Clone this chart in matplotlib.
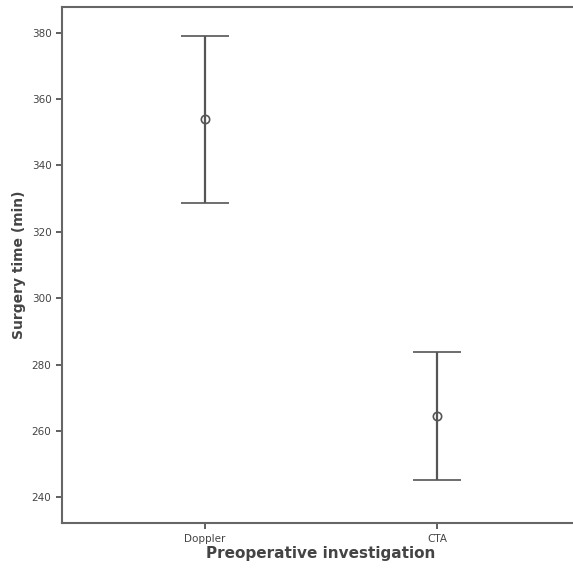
import matplotlib.pyplot as plt
import numpy as np

# group means and 95% CI bounds
groups = ['Doppler', 'CTA']
means = [354.1, 264.6]
upper = [379.1, 283.9]
lower = [328.8, 245.1]

fig = plt.figure(figsize=(5.73, 5.73), dpi=100)
ax = fig.add_axes([0.108, 0.087, 0.904, 0.901])

x = np.arange(len(groups))
m = np.array(means)
err = [m - np.array(lower), np.array(upper) - m]
ax.errorbar(x, m, yerr=err, fmt='o', color='#555555', mfc='none', mec='#555555',
            ms=6, mew=1.2, elinewidth=1.6, capsize=17, capthick=1.8)

ax.set_xlim(-0.616, 1.616)
ax.set_ylim(232.2, 387.8)
ax.set_yticks([240, 260, 280, 300, 320, 340, 360, 380])
ax.set_xticks(x)
ax.set_xticklabels(groups)

for s in ax.spines.values():
    s.set_color('#666666')
    s.set_linewidth(1.5)
ax.tick_params(colors='#444444', labelsize=7.5, length=4, width=1.2)

ax.set_xlabel('Preoperative investigation', fontsize=11, fontweight='bold',
              color='#444444', labelpad=2)
ax.set_ylabel('Surgery time (min)', fontsize=10, fontweight='bold',
              color='#444444', labelpad=4)

fig.savefig('out.png', dpi=100)
